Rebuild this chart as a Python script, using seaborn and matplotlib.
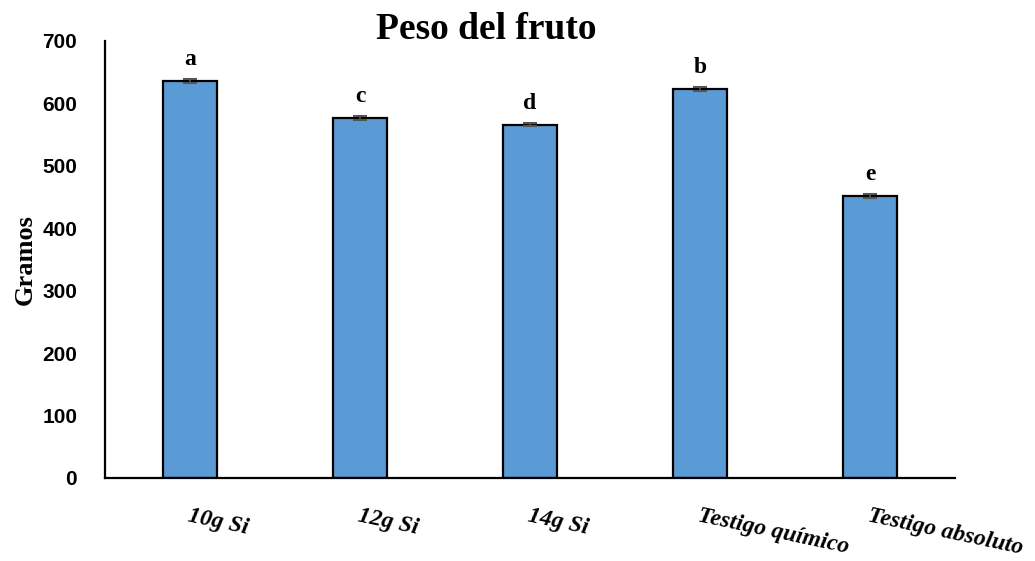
import matplotlib
matplotlib.use("Agg")
import matplotlib.pyplot as plt
import seaborn as sns
import pandas as pd
import numpy as np

categories = ["10g Si", "12g Si", "14g Si", "Testigo químico", "Testigo absoluto"]
peso = [636, 577, 566, 623, 452]
error = [3, 3, 3, 3, 3]
letras = ["a", "c", "d", "b", "e"]

sns.set_theme(style="white")
plt.rcParams["font.family"] = ["Liberation Sans", "DejaVu Sans"]
plt.rcParams["text.color"] = "black"
plt.rcParams["xtick.color"] = "black"
plt.rcParams["ytick.color"] = "black"
plt.rcParams["axes.labelcolor"] = "black"

df = pd.DataFrame({"Tratamiento": categories, "Peso": peso})

fig = plt.figure(figsize=(10.35, 5.61), dpi=100)
ax = fig.add_axes([0.1014, 0.148, 0.8213, 0.779])

sns.barplot(data=df, x="Tratamiento", y="Peso", color="#5B9BD5", width=0.32,
            edgecolor="black", linewidth=1.6, saturation=1, errorbar=None, ax=ax)
xs = np.arange(len(categories))
ax.errorbar(xs, peso, yerr=error, fmt="none", ecolor="#555555", elinewidth=1.2,
            capsize=5, capthick=1.5)

for x, v, e, l in zip(xs, peso, error, letras):
    ax.text(x, v + e + 14, l, ha="center", va="bottom", fontsize=17,
            fontweight="bold", family="Liberation Serif")

ax.set_xlim(-0.5, len(categories) - 0.5)
ax.set_ylim(0, 700)
ax.set_yticks(range(0, 701, 100))
ax.set_yticklabels([str(t) for t in range(0, 701, 100)], fontsize=15, fontweight="bold")
ax.set_xticks(xs)
ax.set_xticklabels(categories, rotation=-12, ha="left", rotation_mode="anchor",
                   fontsize=17, fontweight="bold", style="italic",
                   family="Liberation Serif")
ax.tick_params(axis="x", length=0, pad=20)
ax.tick_params(axis="y", length=0, pad=20)
ax.set_xlabel("")
ax.set_ylabel("Gramos", fontsize=19, fontweight="bold", family="Liberation Serif",
              labelpad=4)

for s in ["top", "right"]:
    ax.spines[s].set_visible(False)
for s in ["left", "bottom"]:
    ax.spines[s].set_color("black")
    ax.spines[s].set_linewidth(1.6)

fig.text(0.47, 0.948, "Peso del fruto", ha="center", va="center", fontsize=27,
         fontweight="bold", family="Liberation Serif")

fig.savefig("out.png", dpi=100)
